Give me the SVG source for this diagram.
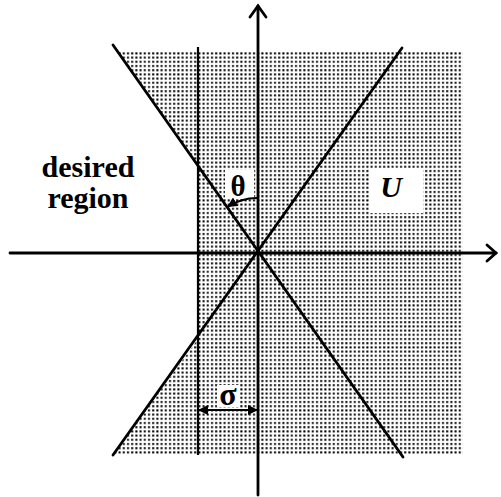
<svg xmlns="http://www.w3.org/2000/svg" width="501" height="497" viewBox="0 0 501 497">
<style>
.ln{stroke:#000;stroke-width:2.8;fill:none;stroke-linecap:round}
.thin{stroke:#000;stroke-width:2.2;fill:none}
.lbl{font-family:"Liberation Serif",serif;font-weight:bold;fill:#000}
</style>
<defs>
<pattern id="dots" x="0" y="1" width="4.2" height="4.2" patternUnits="userSpaceOnUse">
<rect x="1" y="1" width="2" height="2" fill="#000"/>
</pattern>
<marker id="ah" viewBox="0 0 10 10" refX="9" refY="5" markerWidth="10" markerHeight="10" markerUnits="userSpaceOnUse" orient="auto-start-reverse">
<path d="M0,0 L10,5 L0,10 Z" fill="#000"/>
</marker>
</defs>
<rect width="501" height="497" fill="#fff"/>
<g id="shading">
<polygon points="117,51 463,51 463,454 114,454 198,339 198,167" fill="url(#dots)"/>
<rect x="225" y="170" width="29" height="28" fill="#fff"/>
<rect x="217" y="385" width="22" height="22" fill="#fff"/>
<rect x="370" y="168" width="53" height="45" fill="#fff"/>
</g>
<g id="connectors">
<line class="ln" x1="258" y1="6" x2="258" y2="495"/>
<path class="ln" d="M250,17 L258,6 L266,17"/>
<line class="ln" x1="10" y1="253" x2="496" y2="253"/>
<path class="ln" d="M487,245 L496,253 L487,261"/>
<line class="ln" x1="113" y1="45" x2="403" y2="457"/>
<line class="ln" x1="113" y1="455" x2="402" y2="48"/>
<line class="thin" x1="198" y1="47" x2="198" y2="455"/>
<line class="thin" x1="199" y1="410" x2="257" y2="410" marker-start="url(#ah)" marker-end="url(#ah)"/>
<path class="thin" d="M257,198 A55,55 0 0 0 228,206.5" marker-end="url(#ah)"/>
</g>
<g id="desired-region">
<text class="lbl" x="88" y="177" font-size="30" text-anchor="middle">desired</text>
<text class="lbl" x="88" y="208" font-size="30" text-anchor="middle">region</text>
</g>
<g id="U">
<text class="lbl" x="391" y="197" font-size="30" font-style="italic" text-anchor="middle">U</text>
</g>
<g id="theta">
<text class="lbl" x="238" y="196" font-size="29" font-weight="normal" text-anchor="middle">θ</text>
</g>
<g id="sigma">
<text class="lbl" x="228" y="405" font-size="32" text-anchor="middle">σ</text>
</g>
</svg>
